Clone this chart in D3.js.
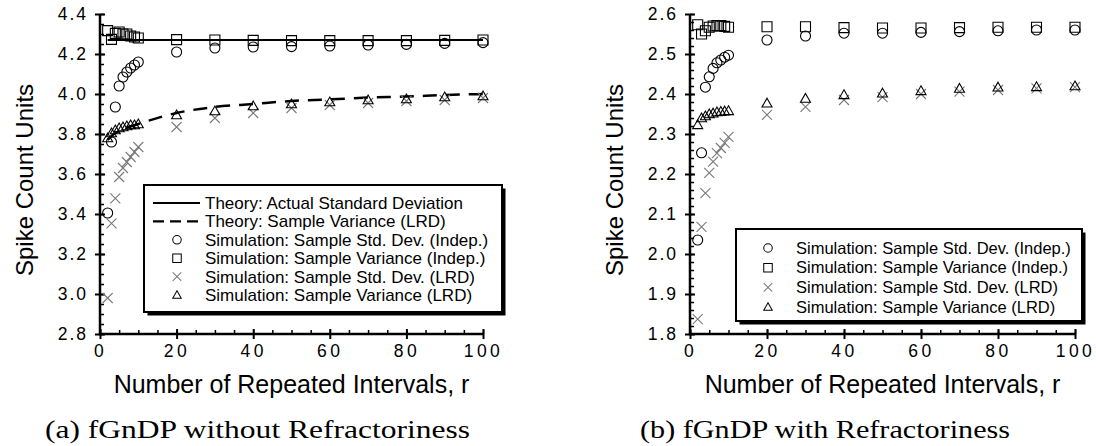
<!DOCTYPE html>
<html>
<head>
<meta charset="utf-8">
<script src="https://cdn.jsdelivr.net/npm/d3@7"></script>
<style>
  html, body { margin: 0; padding: 0; background: #fff; }
  svg { display: block; }
  .tick text { font-family: "Liberation Sans", Arial, sans-serif; fill: #000; }
</style>
</head>
<body>
<svg id="chart" width="1096" height="446"></svg>
<script>
// Number of repeated intervals r at which the simulations were evaluated
const rValues = [2, 3, 4, 5, 6, 7, 8, 9, 10, 20, 30, 40, 50, 60, 70, 80, 90, 100];
const xTicks = [0, 20, 40, 60, 80, 100];

// (a) fGnDP without refractoriness
const theorySdA = 4.27;
const theoryVarRA = [2, 3, 5, 10, 20, 30, 40, 50, 60, 70, 80, 90, 100];
const theoryVarA = [3.77, 3.79, 3.815, 3.85, 3.905, 3.935, 3.95, 3.965, 3.973, 3.982, 3.987, 3.995, 4.0];
const sdIndepA = [3.405, 3.76, 3.935, 4.04, 4.085, 4.11, 4.13, 4.145, 4.16, 4.21, 4.23, 4.235, 4.237, 4.24, 4.245, 4.248, 4.253, 4.257];
const varIndepA = [4.317, 4.273, 4.303, 4.31, 4.30, 4.30, 4.29, 4.285, 4.28, 4.272, 4.27, 4.268, 4.267, 4.267, 4.267, 4.267, 4.268, 4.27];
const sdLrdA = [2.98, 3.353, 3.478, 3.585, 3.63, 3.66, 3.685, 3.71, 3.735, 3.835, 3.88, 3.905, 3.93, 3.945, 3.955, 3.965, 3.97, 3.98];
const varLrdA = [3.78, 3.805, 3.82, 3.83, 3.835, 3.84, 3.845, 3.845, 3.85, 3.895, 3.915, 3.94, 3.95, 3.96, 3.97, 3.975, 3.985, 3.99];
const yTicksA = [2.8, 3.0, 3.2, 3.4, 3.6, 3.8, 4.0, 4.2, 4.4];

// (b) fGnDP with refractoriness
const sdIndepB = [2.035, 2.253, 2.417, 2.443, 2.464, 2.478, 2.485, 2.492, 2.497, 2.535, 2.545, 2.552, 2.552, 2.554, 2.556, 2.558, 2.56, 2.56];
const varIndepB = [2.573, 2.55, 2.558, 2.567, 2.57, 2.571, 2.571, 2.569, 2.567, 2.568, 2.568, 2.566, 2.565, 2.565, 2.566, 2.567, 2.567, 2.567];
const sdLrdB = [1.837, 2.068, 2.152, 2.203, 2.231, 2.252, 2.265, 2.278, 2.293, 2.348, 2.368, 2.385, 2.392, 2.40, 2.406, 2.41, 2.414, 2.417];
const varLrdB = [2.323, 2.34, 2.345, 2.35, 2.352, 2.355, 2.356, 2.357, 2.358, 2.377, 2.389, 2.398, 2.402, 2.408, 2.414, 2.417, 2.418, 2.42];
const yTicksB = [1.8, 1.9, 2.0, 2.1, 2.2, 2.3, 2.4, 2.5, 2.6];

// Legend entries
const legendTheory = ["Theory: Actual Standard Deviation", "Theory: Sample Variance (LRD)"];
const legendSim = [
  "Simulation: Sample Std. Dev. (Indep.)",
  "Simulation: Sample Variance (Indep.)",
  "Simulation: Sample Std. Dev. (LRD)",
  "Simulation: Sample Variance (LRD)"
];
const captions = ["(a) fGnDP without Refractoriness", "(b) fGnDP with Refractoriness"];
const xTitle = "Number of Repeated Intervals, r";
const yTitle = "Spike Count Units";

const svg = d3.select("#chart");
svg.append("rect").attr("width", 1096).attr("height", 446).attr("fill", "#fff");

const SANS = '"Liberation Sans", Arial, sans-serif';
const GREY = "#7a7a7a";

// Marker path builders (centered on 0,0)
function markerPath(kind) {
  const p = d3.path();
  if (kind === "circle") {
    p.moveTo(5, 0); p.arc(0, 0, 5, 0, 2 * Math.PI);
  } else if (kind === "square") {
    p.rect(-5, -5, 10, 10);
  } else if (kind === "triangle") {
    p.moveTo(0, -5); p.lineTo(5, 3.8); p.lineTo(-5, 3.8); p.closePath();
  } else if (kind === "x") {
    p.moveTo(-5, -5); p.lineTo(5, 5); p.moveTo(5, -5); p.lineTo(-5, 5);
  }
  return p.toString();
}
const markerColor = { circle: "#000", square: "#000", triangle: "#000", x: GREY };

function drawPanel(cfg) {
  const g = svg.append("g");
  const x = d3.scaleLinear().domain([0, 100]).range([cfg.x0, cfg.x1]);
  const y = d3.scaleLinear().domain(cfg.yDomain).range([cfg.y1, cfg.y0]);

  // minor ticks (inward)
  const yMinor = d3.range(cfg.yDomain[0], cfg.yDomain[1] + 1e-9, cfg.yMinorStep);
  g.append("g").attr("transform", `translate(${cfg.x0},0)`)
    .call(d3.axisRight(y).tickValues(yMinor).tickSize(4).tickFormat(""))
    .call(a => a.select(".domain").remove())
    .call(a => a.selectAll("line").attr("stroke-width", 1.5));
  const xMinor = d3.range(0, 100.001, 5);
  g.append("g").attr("transform", `translate(0,${cfg.y1})`)
    .call(d3.axisTop(x).tickValues(xMinor).tickSize(4).tickFormat(""))
    .call(a => a.select(".domain").remove())
    .call(a => a.selectAll("line").attr("stroke-width", 1.5));

  // major ticks inward
  g.append("g").attr("transform", `translate(${cfg.x0},0)`)
    .call(d3.axisRight(y).tickValues(cfg.yTicks).tickSize(5).tickFormat(""))
    .call(a => a.select(".domain").remove())
    .call(a => a.selectAll("line").attr("stroke-width", 2));
  g.append("g").attr("transform", `translate(0,${cfg.y1})`)
    .call(d3.axisTop(x).tickValues(xTicks).tickSize(5).tickFormat(""))
    .call(a => a.select(".domain").remove())
    .call(a => a.selectAll("line").attr("stroke-width", 2));

  // major ticks outward with labels
  g.append("g").attr("transform", `translate(${cfg.x0},0)`)
    .call(d3.axisLeft(y).tickValues(cfg.yTicks).tickSize(5).tickSizeOuter(0).tickPadding(7)
      .tickFormat(d3.format(".1f")))
    .call(a => a.select(".domain").remove())
    .call(a => a.selectAll("line").attr("stroke-width", 2))
    .call(a => a.selectAll("text").attr("font-size", 17.5).attr("letter-spacing", "2px")
      .attr("font-family", SANS));
  g.append("g").attr("transform", `translate(0,${cfg.y1})`)
    .call(d3.axisBottom(x).tickValues(xTicks).tickSize(5).tickSizeOuter(0).tickPadding(6)
      .tickFormat(d3.format("d")))
    .call(a => a.select(".domain").remove())
    .call(a => a.selectAll("line").attr("stroke-width", 2))
    .call(a => a.selectAll("text").attr("font-size", 17.5).attr("letter-spacing", "3.5px")
      .attr("font-family", SANS));

  // axis lines
  g.append("line").attr("x1", cfg.x0).attr("x2", cfg.x0).attr("y1", cfg.y0).attr("y2", cfg.y1 + 1.25)
    .attr("stroke", "#000").attr("stroke-width", 2.5);
  g.append("line").attr("x1", cfg.x0 - 1.25).attr("x2", cfg.x1).attr("y1", cfg.y1).attr("y2", cfg.y1)
    .attr("stroke", "#000").attr("stroke-width", 2.5);

  // axis titles
  g.append("text").attr("x", (cfg.x0 + cfg.x1) / 2 + cfg.xTitleShift).attr("y", 393)
    .attr("text-anchor", "middle").attr("font-family", SANS).attr("font-size", 25)
    .text(xTitle);
  g.append("text")
    .attr("transform", `translate(${cfg.x0 - 67},${(cfg.y0 + cfg.y1) / 2 + 6}) rotate(-90)`)
    .attr("text-anchor", "middle").attr("font-family", SANS).attr("font-size", 24)
    .text(yTitle);

  // theory curves
  if (cfg.theory) {
    g.append("path")
      .datum([2, 100])
      .attr("d", d3.line().x(d => x(d)).y(() => y(theorySdA)))
      .attr("fill", "none").attr("stroke", "#000").attr("stroke-width", 2.2);
    g.append("path")
      .datum(theoryVarRA.map((r, i) => [r, theoryVarA[i]]))
      .attr("d", d3.line().x(d => x(d[0])).y(d => y(d[1])).curve(d3.curveMonotoneX))
      .attr("fill", "none").attr("stroke", "#000").attr("stroke-width", 2.5)
      .attr("stroke-dasharray", "14,9");
  }

  // simulation markers
  cfg.series.forEach(s => {
    g.append("g").selectAll("path")
      .data(rValues.map((r, i) => [r, s.values[i]]))
      .join("path")
      .attr("transform", d => `translate(${x(d[0])},${y(d[1])})`)
      .attr("d", markerPath(s.kind))
      .attr("fill", "none")
      .attr("stroke", markerColor[s.kind])
      .attr("stroke-width", 1.1);
  });

  // legend
  const L = cfg.legend;
  const lg = g.append("g");
  lg.append("rect").attr("x", L.x + 3.5).attr("y", L.y + 3.5).attr("width", L.w).attr("height", L.h)
    .attr("fill", "#000");
  lg.append("rect").attr("x", L.x).attr("y", L.y).attr("width", L.w).attr("height", L.h)
    .attr("fill", "#fff").attr("stroke", "#000").attr("stroke-width", 2);
  let row = 0;
  if (cfg.theory) {
    legendTheory.forEach((t, i) => {
      const yy = L.firstRow + row * L.rowStep;
      lg.append("line").attr("x1", L.symX - 24).attr("x2", L.symX + 23).attr("y1", yy).attr("y2", yy)
        .attr("stroke", "#000").attr("stroke-width", 2.2)
        .attr("stroke-dasharray", i === 1 ? "11,6" : null);
      lg.append("text").attr("x", L.textX).attr("y", yy).attr("dy", "0.35em")
        .attr("font-family", SANS).attr("font-size", L.font).text(t);
      row++;
    });
  }
  cfg.series.forEach((s, i) => {
    const yy = L.firstRow + row * L.rowStep;
    lg.append("path").attr("transform", `translate(${L.symX},${yy}) scale(0.85)`)
      .attr("d", markerPath(s.kind)).attr("fill", "none")
      .attr("stroke", markerColor[s.kind]).attr("stroke-width", 1.2);
    lg.append("text").attr("x", L.textX).attr("y", yy).attr("dy", "0.35em")
      .attr("font-family", SANS).attr("font-size", L.font).text(legendSim[i]);
    row++;
  });

  // caption
  g.append("text").attr("x", cfg.capX).attr("y", 438)
    .attr("font-family", '"Liberation Serif", "Times New Roman", serif').attr("font-size", 26)
    .attr("textLength", cfg.capW).attr("lengthAdjust", "spacingAndGlyphs")
    .text(cfg.caption);
}

drawPanel({
  x0: 100, x1: 483, y0: 14, y1: 334,
  yDomain: [2.8, 4.4], yTicks: yTicksA, yMinorStep: 0.05,
  xTitleShift: 0,
  theory: true,
  series: [
    { kind: "circle", values: sdIndepA },
    { kind: "square", values: varIndepA },
    { kind: "x", values: sdLrdA },
    { kind: "triangle", values: varLrdA }
  ],
  legend: { x: 144, y: 185, w: 358, h: 127, symX: 177, textX: 205, firstRow: 203, rowStep: 18.4, font: 17 },
  caption: captions[0], capX: 45, capW: 425
});

drawPanel({
  x0: 690, x1: 1075, y0: 14, y1: 334,
  yDomain: [1.8, 2.6], yTicks: yTicksB, yMinorStep: 0.02,
  xTitleShift: 0,
  theory: false,
  series: [
    { kind: "circle", values: sdIndepB },
    { kind: "square", values: varIndepB },
    { kind: "x", values: sdLrdB },
    { kind: "triangle", values: varLrdB }
  ],
  legend: { x: 736, y: 229, w: 346, h: 92, symX: 768, textX: 796, firstRow: 248, rowStep: 19.7, font: 16.5 },
  caption: captions[1], capX: 640, capW: 370
});
</script>
</body>
</html>
